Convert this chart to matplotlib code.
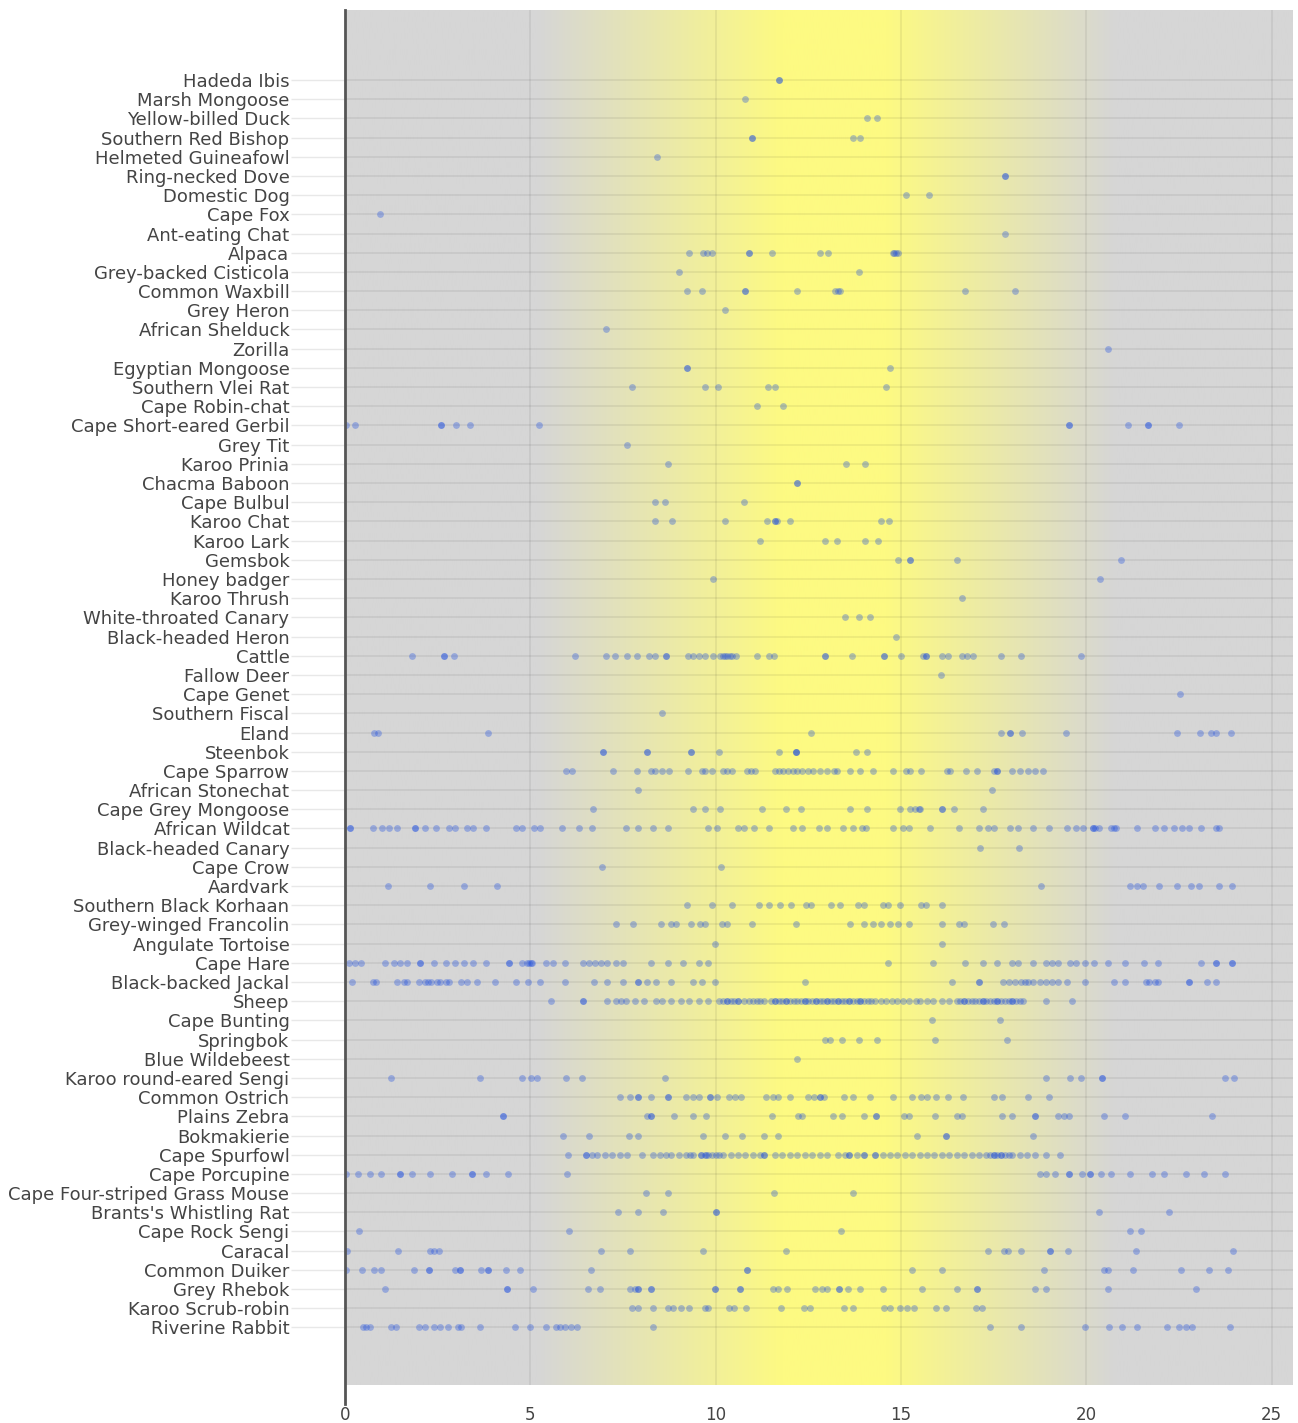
import numpy as np
import matplotlib.pyplot as plt

# species listed top to bottom, with observation hour of day
species = [
    "Hadeda Ibis", "Marsh Mongoose", "Yellow-billed Duck", "Southern Red Bishop",
    "Helmeted Guineafowl", "Ring-necked Dove", "Domestic Dog", "Cape Fox",
    "Ant-eating Chat", "Alpaca", "Grey-backed Cisticola", "Common Waxbill",
    "Grey Heron", "African Shelduck", "Zorilla", "Egyptian Mongoose",
    "Southern Vlei Rat", "Cape Robin-chat", "Cape Short-eared Gerbil", "Grey Tit",
    "Karoo Prinia", "Chacma Baboon", "Cape Bulbul", "Karoo Chat",
    "Karoo Lark", "Gemsbok", "Honey badger", "Karoo Thrush",
    "White-throated Canary", "Black-headed Heron", "Cattle", "Fallow Deer",
    "Cape Genet", "Southern Fiscal", "Eland", "Steenbok",
    "Cape Sparrow", "African Stonechat", "Cape Grey Mongoose", "African Wildcat",
    "Black-headed Canary", "Cape Crow", "Aardvark", "Southern Black Korhaan",
    "Grey-winged Francolin", "Angulate Tortoise", "Cape Hare", "Black-backed Jackal",
    "Sheep", "Cape Bunting", "Springbok", "Blue Wildebeest",
    "Karoo round-eared Sengi", "Common Ostrich", "Plains Zebra", "Bokmakierie",
    "Cape Spurfowl", "Cape Porcupine", "Cape Four-striped Grass Mouse",
    "Brants's Whistling Rat", "Cape Rock Sengi", "Caracal", "Common Duiker",
    "Grey Rhebok", "Karoo Scrub-robin", "Riverine Rabbit",
]

hours = [
    [11.7, 11.7],
    [10.8],
    [14.07, 14.35],
    [10.97, 10.97, 13.69, 13.89],
    [8.41],
    [17.8, 17.8],
    [15.12, 15.75],
    [0.95],
    [17.8],
    [9.29, 9.67, 9.77, 9.9, 10.9, 10.9, 11.53, 12.82, 13.04, 14.79, 14.82, 14.85, 14.93],
    [9.0, 13.87],
    [9.23, 9.62, 10.79, 10.79, 12.2, 13.23, 13.35, 13.3, 16.73, 18.08],
    [10.26],
    [7.03],
    [20.57],
    [9.23, 9.23, 14.7],
    [7.75, 9.7, 10.07, 11.4, 11.61, 14.58],
    [11.12, 11.82],
    [0.02, 0.28, 2.59, 2.59, 2.99, 3.38, 5.22, 19.52, 19.52, 21.12, 21.66, 21.66, 22.51],
    [7.6],
    [8.7, 13.51, 14.02],
    [12.2, 12.2],
    [8.36, 8.62, 10.77],
    [8.37, 8.82, 10.26, 11.38, 11.61, 11.61, 11.65, 11.99, 14.47, 14.68],
    [11.2, 12.96, 13.27, 14.04, 14.38],
    [14.93, 15.24, 15.24, 16.5, 20.92],
    [9.92, 20.36],
    [16.63],
    [13.5, 13.86, 14.15],
    [14.86],
    [1.81, 2.68, 2.68, 2.94, 6.21, 7.04, 7.27, 7.62, 7.87, 8.19, 8.36, 8.65, 8.65,
     9.24, 9.38, 9.54, 9.7, 9.92, 10.11, 10.2, 10.26, 10.3, 10.39, 10.45, 10.56,
     11.1, 11.45, 11.56, 12.96, 12.96, 13.68, 14.53, 14.53, 15.01, 15.58, 15.67,
     15.67, 16.11, 16.27, 16.63, 16.77, 16.93, 17.7, 18.24, 19.84],
    [16.09],
    [22.53],
    [8.56],
    [0.79, 0.89, 3.86, 12.56, 17.7, 17.93, 17.93, 18.26, 19.44, 22.45, 23.05, 23.37, 23.5, 23.89],
    [6.96, 6.96, 8.14, 8.14, 9.33, 9.33, 10.08, 11.72, 12.17, 12.17, 12.17, 13.79, 14.07],
    [5.96, 6.12, 7.24, 7.87, 8.26, 8.36, 8.56, 8.74, 9.24, 9.62, 9.71, 9.9, 10.2,
     10.3, 10.44, 10.85, 10.95, 11.05, 11.59, 11.71, 11.81, 11.94, 12.09, 12.2,
     12.33, 12.5, 12.63, 12.82, 12.99, 13.19, 13.28, 13.61, 13.89, 14.25, 14.79,
     15.12, 15.25, 15.53, 16.24, 16.32, 16.76, 17.04, 17.5, 17.59, 17.59, 17.98,
     18.21, 18.41, 18.62, 18.82],
    [7.9, 17.44],
    [6.68, 9.39, 9.7, 10.11, 11.26, 11.89, 12.3, 13.61, 14.07, 14.96, 15.25, 15.37,
     15.48, 15.5, 16.11, 16.11, 16.44, 17.21],
    [0.13, 0.13, 0.76, 1.0, 1.2, 1.41, 1.9, 1.9, 2.15, 2.45, 2.81, 2.97, 3.3, 3.46,
     3.79, 4.61, 4.78, 5.11, 5.27, 5.85, 6.31, 6.67, 7.57, 7.9, 8.31, 8.72, 9.79,
     10.03, 10.61, 10.77, 11.02, 11.43, 12.09, 12.33, 12.78, 12.99, 13.43, 13.69,
     13.94, 14.06, 14.79, 15.04, 15.21, 15.78, 16.57, 17.09, 17.34, 17.5, 17.95,
     18.16, 18.57, 18.98, 19.47, 19.72, 19.92, 20.18, 20.18, 20.22, 20.34, 20.67,
     20.74, 20.79, 21.36, 21.86, 22.1, 22.35, 22.59, 22.76, 23.09, 23.5, 23.58],
    [17.13, 18.18],
    [6.93, 10.13],
    [1.17, 2.28, 3.22, 4.09, 18.77, 21.17, 21.36, 21.53, 21.97, 22.45, 22.81,
     23.04, 23.58, 23.92],
    [9.23, 9.9, 10.44, 11.18, 11.45, 11.74, 12.02, 12.43, 12.58, 13.1, 13.35,
     13.84, 14.01, 14.52, 14.66, 14.98, 15.53, 15.67, 16.11],
    [7.32, 7.78, 8.52, 8.8, 8.92, 9.34, 9.57, 9.71, 10.16, 10.3, 10.99, 12.17,
     13.61, 14.01, 14.24, 14.47, 14.7, 14.93, 15.21, 16.11, 16.57, 16.7, 17.47, 17.78],
    [9.98, 16.11],
    [0.1, 0.26, 0.43, 1.08, 1.33, 1.49, 1.66, 2.02, 2.02, 2.4, 2.73, 2.97, 3.22,
     3.46, 3.79, 4.42, 4.42, 4.78, 4.91, 4.95, 5.02, 5.05, 5.43, 5.6, 5.93, 6.42,
     6.59, 6.75, 6.91, 7.08, 7.32, 7.49, 8.26, 8.72, 9.13, 9.54, 9.79, 14.66,
     15.86, 16.73, 17.22, 17.59, 18.0, 18.16, 18.57, 18.9, 19.06, 19.23, 19.56,
     19.72, 19.97, 20.21, 20.57, 21.03, 21.56, 21.93, 23.09, 23.5, 23.5, 23.92, 23.92],
    [0.18, 0.76, 0.84, 1.41, 1.58, 1.66, 1.99, 2.15, 2.23, 2.32, 2.48, 2.56, 2.73,
     2.81, 3.14, 3.3, 3.55, 4.04, 4.61, 4.94, 5.27, 5.93, 6.72, 7.08, 7.49, 7.9,
     7.9, 8.14, 8.39, 8.8, 9.38, 9.62, 9.98, 12.41, 16.36, 17.09, 17.09, 17.75,
     17.91, 18.08, 18.24, 18.33, 18.41, 18.57, 18.74, 18.9, 19.06, 19.23, 19.47,
     19.97, 20.74, 21.03, 21.61, 21.69, 21.86, 21.94, 22.76, 22.76, 23.25, 23.5],
    [5.55, 6.42, 6.42, 7.08, 7.32, 7.44, 7.57, 7.82, 8.06, 8.39, 8.56, 8.8, 9.05,
     9.29, 9.54, 9.79, 10.1, 10.2, 10.3, 10.4, 10.5, 10.6, 10.75, 10.9, 11.0, 11.1,
     11.2, 11.3, 11.5, 11.6, 11.7, 11.8, 11.9, 12.0, 12.1, 12.2, 12.3, 12.4, 12.5,
     12.6, 12.7, 12.8, 12.9, 13.0, 13.1, 13.2, 13.3, 13.4, 13.5, 13.6, 13.7, 13.8,
     13.9, 14.0, 14.1, 14.2, 14.3, 14.45, 14.6, 14.75, 14.9, 15.05, 15.2, 15.4,
     15.5, 15.7, 15.85, 16.1, 16.3, 16.5, 16.6, 16.7, 16.8, 16.9, 17.0, 17.1, 17.2,
     17.3, 17.4, 17.5, 17.6, 17.7, 17.8, 17.9, 18.0, 18.1, 18.2, 18.3, 18.9, 19.6,
     10.3, 10.6, 11.6, 11.9, 12.4, 12.7, 13.0, 13.3, 13.6, 13.9, 16.7, 17.2, 17.6, 18.0],
    [15.83, 17.67],
    [12.94, 13.07, 13.4, 13.86, 14.35, 15.91, 17.87],
    [12.2],
    [1.23, 3.63, 4.78, 5.02, 5.19, 5.96, 6.39, 8.62, 18.9, 19.56, 19.85, 20.43, 20.43,
     23.74, 23.99],
    [7.41, 7.7, 7.9, 7.9, 8.26, 8.72, 8.72, 9.21, 9.38, 9.54, 9.84, 9.84, 10.03,
     10.36, 10.53, 10.69, 11.35, 11.54, 11.67, 12.0, 12.5, 12.66, 12.82, 12.82,
     12.91, 13.45, 13.69, 14.17, 14.79, 15.29, 15.53, 15.7, 15.94, 16.27, 16.68,
     17.5, 17.72, 18.41, 18.98],
    [4.27, 4.27, 8.14, 8.26, 8.26, 8.88, 9.38, 9.74, 11.51, 12.22, 12.33, 13.15,
     13.4, 14.01, 14.33, 14.33, 15.09, 15.21, 15.91, 16.52, 16.63, 17.72, 18.0,
     18.62, 18.62, 19.23, 19.39, 19.52, 20.46, 21.03, 23.38],
    [5.88, 6.58, 7.65, 7.9, 9.67, 10.26, 10.72, 11.31, 11.67, 15.42, 16.21, 16.21, 18.57],
    [6.01, 6.5, 6.5, 6.66, 6.8, 7.0, 7.2, 7.42, 7.6, 8.0, 8.3, 8.5, 8.65, 8.8, 9.0,
     9.2, 9.3, 9.4, 9.6, 9.7, 9.75, 9.9, 10.1, 10.2, 10.4, 10.6, 10.8, 11.0, 11.2,
     11.3, 11.6, 11.8, 12.0, 12.2, 12.4, 12.6, 12.8, 13.0, 13.3, 13.5, 13.6, 13.8,
     14.0, 14.3, 14.5, 14.7, 14.9, 15.1, 15.3, 15.5, 15.7, 15.9, 16.1, 16.3, 16.5,
     16.7, 16.9, 17.1, 17.3, 17.4, 17.5, 17.6, 17.7, 17.8, 18.0, 18.2, 18.4, 18.6,
     18.9, 19.3, 9.6, 9.8, 10.0, 11.3, 13.6, 14.0, 14.3, 17.5, 17.7, 17.9],
    [0.02, 0.34, 0.67, 0.97, 1.49, 1.49, 1.82, 2.28, 2.89, 3.43, 3.43, 3.79, 4.4,
     5.98, 18.74, 18.9, 19.15, 19.52, 19.52, 19.89, 20.1, 20.1, 20.38, 20.67,
     21.17, 21.77, 22.1, 22.68, 23.17, 23.74],
    [8.11, 8.72, 11.56, 13.69],
    [7.36, 7.9, 8.59, 10.0, 10.0, 20.34, 22.23],
    [0.39, 6.03, 13.38, 21.17, 21.46],
    [0.05, 1.43, 2.28, 2.4, 2.53, 6.91, 7.7, 9.67, 11.89, 17.34, 17.78, 17.88,
     18.24, 19.01, 19.01, 19.51, 21.33, 23.96],
    [0.02, 0.46, 0.79, 0.97, 1.86, 2.27, 2.27, 2.97, 3.1, 3.1, 3.66, 3.87, 3.87,
     4.33, 4.73, 6.63, 10.85, 10.85, 15.3, 16.11, 18.85, 20.46, 20.57, 21.25,
     22.56, 23.3, 23.83],
    [1.08, 4.37, 4.37, 5.07, 6.55, 6.88, 7.7, 7.82, 7.9, 7.9, 8.26, 8.26, 9.98,
     9.98, 10.66, 10.66, 11.54, 11.67, 11.92, 12.69, 12.87, 12.99, 13.32, 13.32,
     13.56, 13.89, 14.52, 15.57, 16.52, 17.06, 17.06, 18.6, 18.9, 20.57, 22.96],
    [7.73, 7.9, 8.31, 8.72, 8.85, 9.05, 9.29, 9.7, 9.79, 10.36, 10.49, 10.82,
     11.76, 12.38, 12.55, 13.45, 13.69, 14.55, 14.71, 14.96, 15.17, 15.34, 15.94,
     16.22, 17.01, 17.18],
    [0.48, 0.56, 0.67, 1.25, 1.38, 1.99, 2.15, 2.4, 2.56, 2.78, 3.05, 3.14, 3.63,
     4.58, 4.98, 5.43, 5.68, 5.8, 5.93, 6.09, 6.26, 8.31, 17.39, 18.24, 19.97,
     20.62, 20.95, 21.36, 22.18, 22.51, 22.68, 22.84, 23.86],
]

x_ticks = [0, 5, 10, 15, 20, 25]

fig = plt.figure(figsize=(12.98, 14.23), dpi=100)
ax = fig.add_axes([0.2658, 0.0267, 0.7303, 0.9663])

n = len(species)
xmin, xmax = 0, 25.57
ymin, ymax = -3.0, n - 1 + 3.65

# daylight background: grey -> yellow around midday -> grey
gx = np.linspace(xmin, xmax, 600)
w = np.interp(gx, [0, 5.2, 11.8, 14.6, 20.8, 25.6], [0, 0, 1, 1, 0, 0])
grey = np.array([214, 214, 214]) / 255
yellow = np.array([253, 250, 130]) / 255
bg = grey[None, :] * (1 - w[:, None]) + yellow[None, :] * w[:, None]
ax.imshow(bg[None, :, :], extent=[xmin, xmax, ymin, ymax], aspect='auto',
          origin='lower', zorder=0, interpolation='bilinear')

for i, hrs in enumerate(hours):
    y = n - 1 - i
    ax.scatter(hrs, [y] * len(hrs), s=24, color='#1f4fe0', alpha=0.34,
               linewidths=0, zorder=3)

ax.set_xlim(xmin, xmax)
ax.set_ylim(ymin, ymax)
ax.set_yticks(range(n))
ax.set_yticklabels(species[::-1], fontsize=13, color='#444444')
ax.set_xticks(x_ticks)
ax.set_xticklabels([str(t) for t in x_ticks], fontsize=12, color='#444444')

ax.tick_params(axis='y', length=39, width=1, color='#e8e8e8', pad=1)
ax.tick_params(axis='x', length=0, pad=15)

for y in range(n):
    ax.axhline(y, color='black', alpha=0.07, lw=1.2, zorder=1)
for x in x_ticks[1:]:
    ax.axvline(x, color='black', alpha=0.07, lw=1.2, zorder=1)

for s in ax.spines.values():
    s.set_visible(False)
ax.plot([0, 0], [ymin - 1.0, ymax], color='#555555', lw=2, clip_on=False, zorder=4)

fig.savefig('out.png', dpi=100)
